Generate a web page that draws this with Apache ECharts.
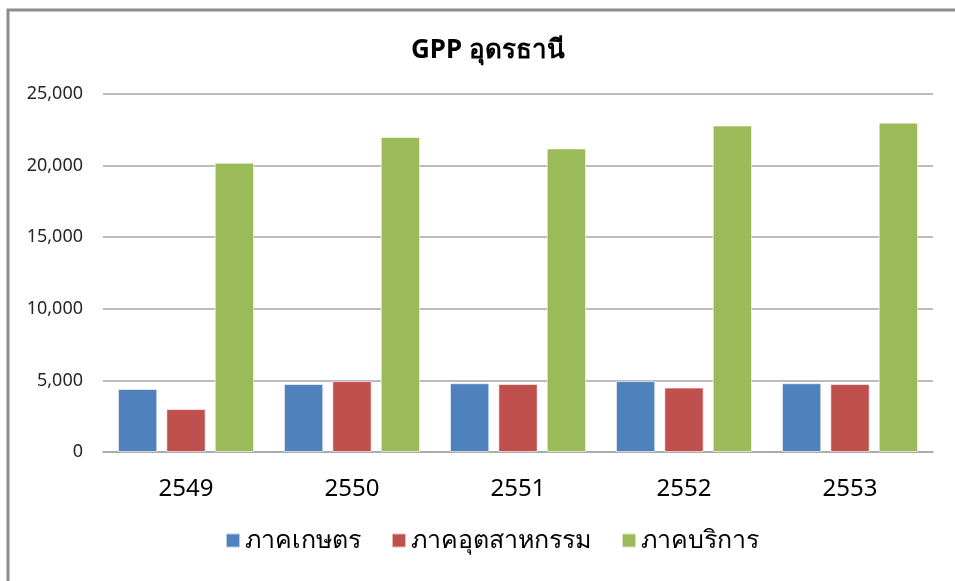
<!DOCTYPE html>
<html>
<head>
<meta charset="utf-8">
<script src="https://cdn.jsdelivr.net/npm/echarts@6/dist/echarts.min.js"></script>
<style>
  html, body { margin: 0; padding: 0; background: #fff; }
  #main { width: 955px; height: 581px; }
</style>
</head>
<body>
<div id="main"></div>
<script>
  // ปี พ.ศ.
  const years = ['2549', '2550', '2551', '2552', '2553'];
  const seriesNames = ['ภาคเกษตร', 'ภาคอุตสาหกรรม', 'ภาคบริการ'];
  // ล้านบาท (อ่านจากภาพ)
  const agriculture = [4400, 4750, 4800, 4950, 4800];
  const industry = [3000, 4950, 4750, 4500, 4750];
  const services = [20200, 22000, 21200, 22800, 23000];
  const colors = ['#4F81BD', '#C0504D', '#9BBB59'];

  const myChart = echarts.init(document.getElementById('main'));

  const makeSeries = (name, data, color) => ({
    name: name,
    type: 'bar',
    data: data,
    barGap: '23%',
    barCategoryGap: '18%',
    itemStyle: {
      color: color,
      borderColor: 'rgba(255,255,255,0.6)',
      borderWidth: 1
    }
  });

  myChart.setOption({
    animation: false,
    backgroundColor: '#fff',
    title: {
      text: 'GPP อุดรธานี',
      left: 406,
      top: 33,
      textStyle: {
        fontFamily: 'Noto Sans, sans-serif',
        fontSize: 26,
        fontWeight: 'bold',
        color: '#000'
      }
    },
    graphic: [{
      type: 'rect',
      shape: { x: 8, y: 10, width: 960, height: 580 },
      style: { fill: 'none', stroke: '#8c8c8c', lineWidth: 3 },
      silent: true
    }],
    legend: {
      data: seriesNames,
      top: 523,
      left: 220,
      itemWidth: 14,
      itemHeight: 14,
      itemGap: 30,
      icon: 'rect',
      textStyle: {
        fontFamily: 'Noto Sans, sans-serif',
        fontSize: 25,
        color: '#000'
      }
    },
    grid: {
      left: 103,
      right: 22,
      top: 94,
      bottom: 129,
      containLabel: false
    },
    xAxis: {
      type: 'category',
      data: years,
      axisLine: { lineStyle: { color: '#a6a6a6', width: 1.5 } },
      axisTick: { show: false },
      axisLabel: {
        margin: 25,
        fontFamily: 'Noto Sans, sans-serif',
        fontSize: 24,
        color: '#000'
      }
    },
    yAxis: {
      type: 'value',
      min: 0,
      max: 25000,
      interval: 5000,
      axisLine: { show: false },
      axisTick: { show: false },
      splitLine: { lineStyle: { color: '#a6a6a6', width: 1.5 } },
      axisLabel: {
        margin: 20,
        fontFamily: 'Noto Sans, sans-serif',
        fontSize: 18,
        color: '#262626',
        formatter: v => v.toLocaleString('en-US')
      }
    },
    series: [
      makeSeries(seriesNames[0], agriculture, colors[0]),
      makeSeries(seriesNames[1], industry, colors[1]),
      makeSeries(seriesNames[2], services, colors[2])
    ]
  });
</script>
</body>
</html>
